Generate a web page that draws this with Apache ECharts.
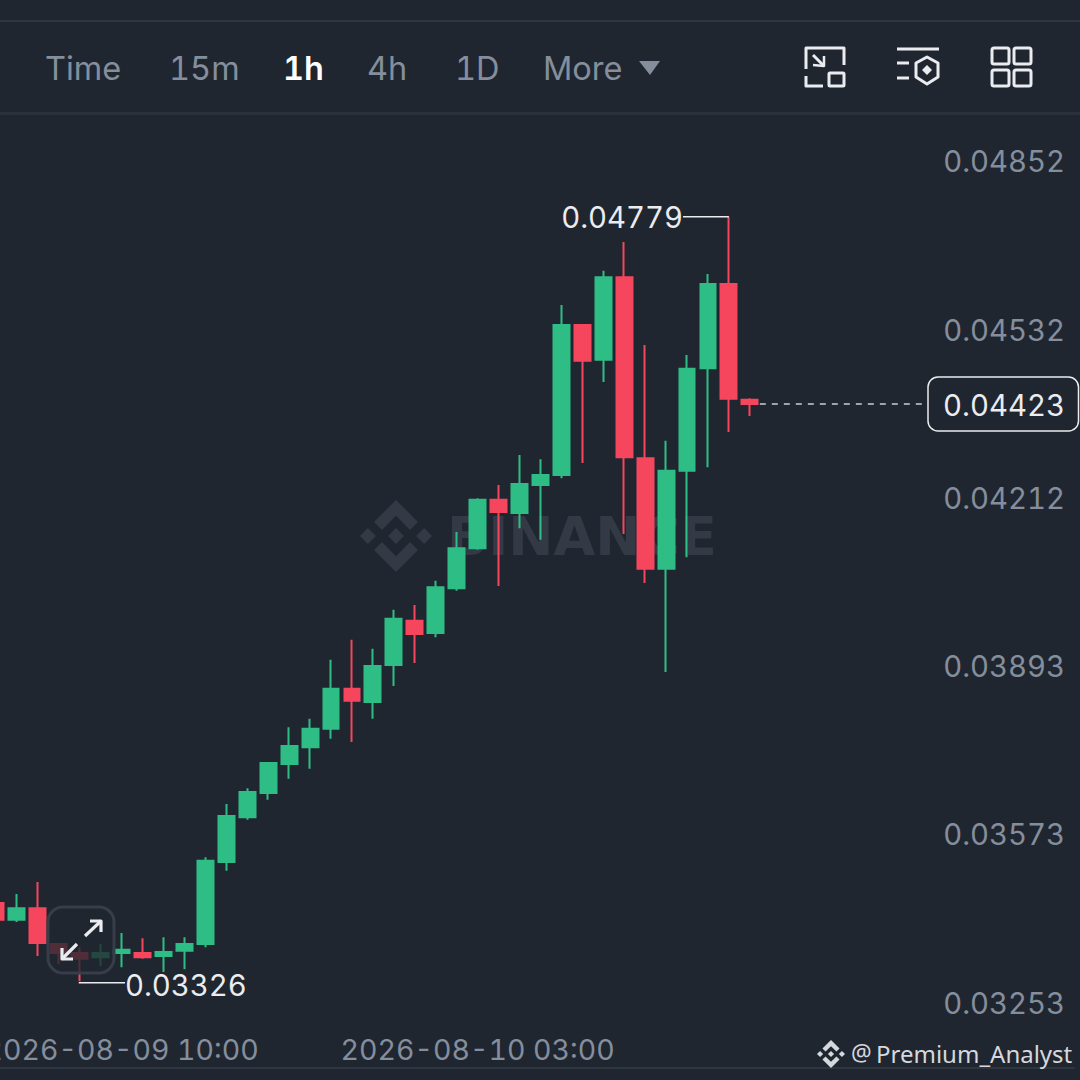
<!DOCTYPE html>
<html>
<head>
<meta charset="utf-8">
<style>html,body{margin:0;padding:0;background:#202630}#c{width:1080px;height:1080px}
svg text{font-feature-settings:"tnum" 1;font-variant-numeric:tabular-nums}</style>
<script src="https://cdn.jsdelivr.net/npm/echarts@6/dist/echarts.min.js"></script>
</head>
<body>
<div id="c"></div>
<script>
// Hourly candles, 2026-08-09 04:00 onward
const times = [
 '2026-08-09 04:00','2026-08-09 05:00','2026-08-09 06:00','2026-08-09 07:00','2026-08-09 08:00','2026-08-09 09:00',
 '2026-08-09 10:00','2026-08-09 11:00','2026-08-09 12:00','2026-08-09 13:00','2026-08-09 14:00','2026-08-09 15:00',
 '2026-08-09 16:00','2026-08-09 17:00','2026-08-09 18:00','2026-08-09 19:00','2026-08-09 20:00','2026-08-09 21:00',
 '2026-08-09 22:00','2026-08-09 23:00','2026-08-10 00:00','2026-08-10 01:00','2026-08-10 02:00','2026-08-10 03:00',
 '2026-08-10 04:00','2026-08-10 05:00','2026-08-10 06:00','2026-08-10 07:00','2026-08-10 08:00','2026-08-10 09:00',
 '2026-08-10 10:00','2026-08-10 11:00','2026-08-10 12:00','2026-08-10 13:00','2026-08-10 14:00','2026-08-10 15:00','2026-08-10 16:00'];
const opens  = [.03475,.03443,.03465,.03397,.03380,.03372,.03380,.03380,.03374,.03384,.03397,.03553,.03638,.03684,.03739,.03771,.03806,.03882,.03857,.03927,.04011,.03988,.04073,.04149,.04241,.04216,.04269,.04288,.04573,.04507,.04664,.04320,.04110,.04296,.04491,.04651,.04431];
const closes = [.03443,.03465,.03399,.03380,.03369,.03380,.03386,.03372,.03382,.03397,.03555,.03640,.03686,.03741,.03773,.03806,.03882,.03859,.03925,.04015,.03986,.04075,.04149,.04241,.04218,.04271,.04288,.04573,.04505,.04664,.04322,.04110,.04296,.04490,.04651,.04433,.04423];
const lows   = [.03440,.03439,.03374,.03359,.03326,.03355,.03353,.03369,.03344,.03349,.03391,.03536,.03633,.03671,.03711,.03730,.03787,.03781,.03825,.03887,.03931,.03980,.04068,.04146,.04077,.04187,.04165,.04282,.04311,.04465,.04176,.04083,.03914,.04132,.04303,.04370,.04400];
const highs  = [.03480,.03492,.03515,.03397,.03391,.03397,.03418,.03408,.03410,.03410,.03562,.03663,.03693,.03743,.03809,.03825,.03937,.03975,.03958,.04032,.04041,.04087,.04180,.04244,.04269,.04326,.04318,.04611,.04575,.04676,.04731,.04535,.04353,.04516,.04670,.04779,.04434];
const yTicks = [0.03253,0.03573,0.03893,0.04212,0.04532,0.04852];
const xTickLabels = ['2026-08-09 10:00','2026-08-10 03:00'];
const tabs = ['Time','15m','1h','4h','1D','More'];
const highLabel = '0.04779', lowLabel = '0.03326', lastLabel = '0.04423';
const lastPrice = 0.04423, highIndex = 35, highPrice = 0.04779, lowIndex = 4, lowPrice = 0.03326;
const emptySlots = 15;

const FONT = 'Inter';
const BG = '#202630', GREEN = '#2EBD85', RED = '#F6465D', GREY = '#848E9C', WHITE = '#EAECEF', LINE = '#2F3541';

const cats = times.concat(new Array(emptySlots).fill(''));
const candles = times.map((_, i) => [opens[i], closes[i], lows[i], highs[i]]);
const slot = 20.94;
const chart = echarts.init(document.getElementById('c'), null, {width:1080, height:1080, renderer:'svg'});

const baseOption = {
  animation:false,
  backgroundColor:BG,
  grid:{left:-14.47, width:slot*cats.length, top:115, height:953, containLabel:false, outerBoundsMode:'none'},
  xAxis:{
    type:'category', data:cats, boundaryGap:true,
    axisLine:{show:true, onZero:false, lineStyle:{color:LINE, width:2}},
    axisTick:{show:false}, splitLine:{show:false},
    axisLabel:{inside:true, margin:4, color:GREY, fontFamily:FONT, fontSize:28.5, verticalAlign:'bottom',
      interval:(i, v) => xTickLabels.includes(v), hideOverlap:false}
  },
  yAxis:{
    type:'value', position:'right', min:0.031614, max:0.049721, scale:true,
    axisLine:{show:false}, axisTick:{show:false}, splitLine:{show:false},
    axisLabel:{inside:true, margin:9.4, color:GREY, fontFamily:FONT, fontSize:29.3, align:'right',
      verticalAlign:'bottom', padding:[0,0,2,0], customValues:yTicks, formatter:v => v.toFixed(5)}
  },
  series:[{
    type:'candlestick', data:candles, barWidth:16.4, clip:false, z:5,
    itemStyle:{color:GREEN, color0:RED, borderColor:GREEN, borderColor0:RED, borderWidth:2}
  }]
};
chart.setOption(baseOption);

const stroke = (c, w) => ({stroke:c, lineWidth:w, fill:null, lineCap:'butt', lineJoin:'round'});
function poly(points, fill, z){ return {type:'polygon', z, silent:true, shape:{points}, style:{fill}}; }
function logo(cx, cy, r, fill, z){
  const P = a => a.map(p => [cx + p[0]*r, cy + p[1]*r]);
  const dia = (x, y, h) => P([[x, y-h],[x+h, y],[x, y+h],[x-h, y]]);
  const top = [[0,-1],[.61,-.39],[.39,-.17],[0,-.56],[-.39,-.17],[-.61,-.39]];
  const bot = top.map(p => [p[0], -p[1]]);
  return [poly(dia(0,0,.22),fill,z), poly(dia(-.78,0,.22),fill,z), poly(dia(.78,0,.22),fill,z), poly(P(top),fill,z), poly(P(bot),fill,z)];
}
function line(x1,y1,x2,y2,c,w,z,extra){
  return {type:'line', z, silent:true, shape:{x1,y1,x2,y2}, style:Object.assign(stroke(c,w), extra||{})};
}
function pl(points,c,w,z){ return {type:'polyline', z, silent:true, shape:{points}, style:stroke(c,w)}; }
function txt(t,x,y,c,size,align,z,weight,font){
  return {type:'text', z, silent:true, x, y, style:{text:t, fill:c, fontSize:size, fontFamily:font||FONT,
    fontWeight:weight||400, align:align||'left', verticalAlign:'middle'}};
}

const hi = chart.convertToPixel({seriesIndex:0}, [highIndex, highPrice]);
const lo = chart.convertToPixel({seriesIndex:0}, [lowIndex, lowPrice]);
const last = chart.convertToPixel({seriesIndex:0}, [times.length-1, lastPrice]);
const Z = 50;
const tabX = [45,169,283,367,455,543];
const els = [
  {type:'rect', z:Z, silent:true, shape:{x:0,y:20,width:1080,height:2}, style:{fill:LINE}},
  {type:'rect', z:Z, silent:true, shape:{x:0,y:112,width:1080,height:3}, style:{fill:'#2B313C'}},
  ...logo(396,536,36,'#343A45',0),
  txt('BINANCE',447,536,'#343A45',54,'left',0,700,'DejaVu Sans'),
  ...tabs.map((t,i)=>txt(t,tabX[i],68,t==='1h'?'#FFFFFF':GREY,32.5,'left',Z,t==='1h'?600:400)),
  poly([[639,61],[660,61],[650,75]],GREY,Z),
  pl([[806,69],[806,48],[844,48],[844,65]],WHITE,3,Z),
  pl([[806,76],[806,86],[823,86]],WHITE,3,Z),
  {type:'rect', z:Z, silent:true, shape:{x:829,y:73,width:15,height:13,r:1}, style:stroke(WHITE,3)},
  pl([[813,55],[824,66]],WHITE,3,Z),
  pl([[813,65],[824,66],[824,56]],WHITE,2.5,Z),
  line(897,49,939,49,WHITE,3,Z),
  line(897,63,909,63,WHITE,3,Z),
  line(897,78,909,78,WHITE,3,Z),
  {type:'polygon', z:Z, silent:true, shape:{points:[[927,57],[938,63],[938,77],[927,84],[916,77],[916,63]]}, style:stroke(WHITE,3)},
  poly([[927,65],[932,70],[927,75],[922,70]],WHITE,Z),
  ...[[992,48],[1014,48],[992,70],[1014,70]].map(p=>({type:'rect', z:Z, silent:true, shape:{x:p[0],y:p[1],width:17,height:16,r:2}, style:stroke(WHITE,3)})),
  pl([[hi[0],hi[1]],[683,hi[1]]],WHITE,1.5,Z),
  txt(highLabel,683,217,WHITE,29.3,'right',Z),
  pl([[lo[0]-1,lo[1]+1.5],[125,lo[1]+1.5]],WHITE,1.5,Z),
  txt(lowLabel,125,985,WHITE,29.3,'left',Z),
  line(last[0]+10,last[1],928,last[1],'#C9CDD3',1.5,Z,{lineDash:[6,6]}),
  {type:'rect', z:Z, silent:true, shape:{x:928,y:377,width:150.5,height:54,r:10}, style:{fill:BG, stroke:WHITE, lineWidth:1.5}},
  txt(lastLabel,1004,405,WHITE,29.3,'center',Z+1),
  {type:'rect', z:Z, silent:true, shape:{x:48,y:907,width:66,height:66,r:15}, style:{fill:'rgba(32,38,48,0.78)', stroke:'#373D49', lineWidth:3}},
  pl([[85,936],[101,921]],WHITE,3.2,Z+1),
  pl([[90,921],[101,921],[101,932]],WHITE,3.2,Z+1),
  pl([[77,944],[62,959]],WHITE,3.2,Z+1),
  pl([[62,948],[62,959],[73,959]],WHITE,3.2,Z+1),
  ...logo(831,1054,14,'#D5D8DC',Z),
  txt('@',851,1052,'#D5D8DC',23,'left',Z,400,'Noto Sans'),
  txt('Premium_Analyst',876,1053,'#D5D8DC',24,'left',Z,400,'Noto Sans')
];
chart.setOption({graphic:{elements:els}});
</script>
</body>
</html>
